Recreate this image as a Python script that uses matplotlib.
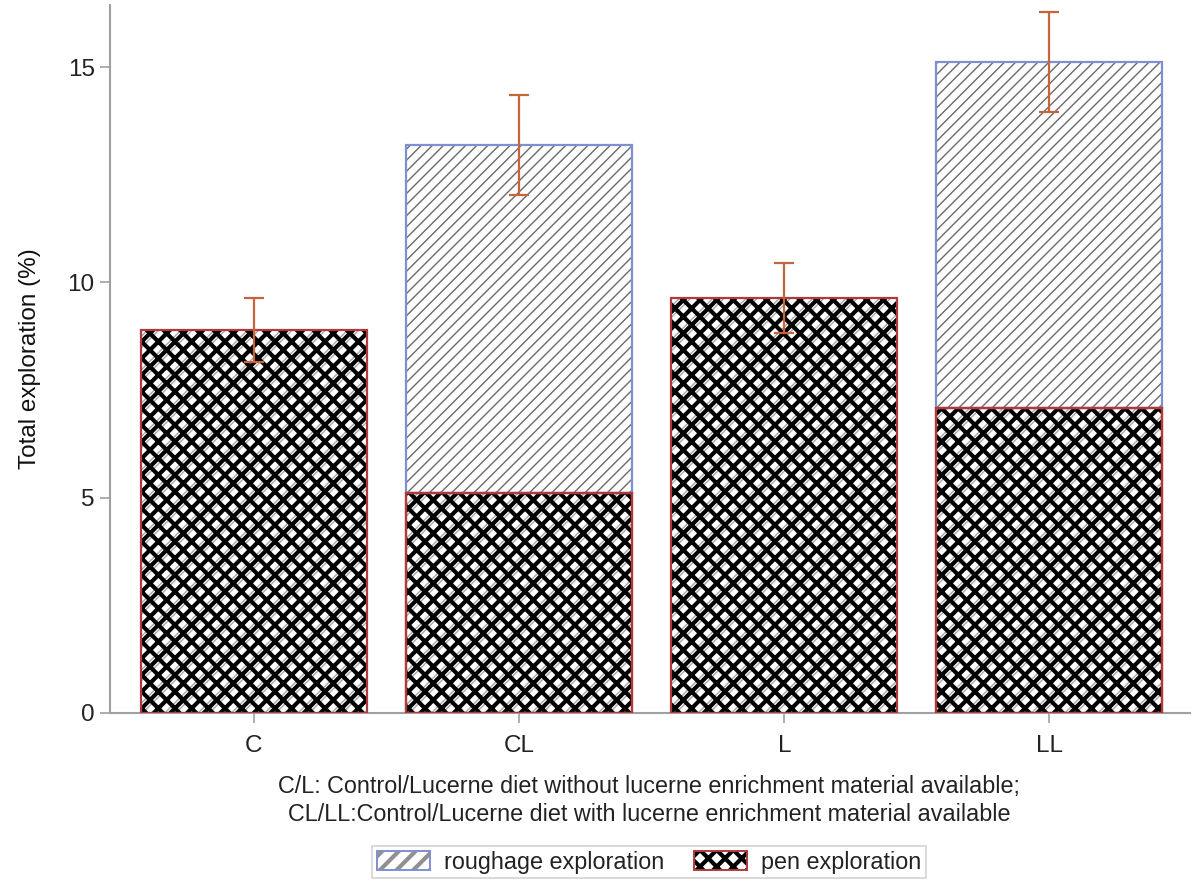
import matplotlib
matplotlib.use("Agg")
import matplotlib.pyplot as plt
from matplotlib.patches import Patch

plt.rcParams['font.family'] = ['Liberation Sans', 'DejaVu Sans']

groups = ["C", "CL", "L", "LL"]
pen = [8.89, 5.11, 9.64, 7.08]
roughage = [0.0, 8.08, 0.0, 8.04]
err = [0.75, 1.17, 0.82, 1.16]

total = [p + r for p, r in zip(pen, roughage)]

FS = 16.8
XLW = 3.0

fig = plt.figure(figsize=(11.94, 8.81), dpi=100)
ax = fig.add_axes([0.0921, 0.1907, 0.9045, 0.8036])

x = list(range(len(groups)))
w = 0.853
pen_edge = '#b03a3a'
rough_edge = '#7f8fcf'
err_col = '#c8643c'


def set_hlw(artists, lw):
    for a in artists:
        if hasattr(a, 'set_hatch_linewidth'):
            a.set_hatch_linewidth(lw)


plt.rcParams['hatch.linewidth'] = 1.0
b1 = ax.bar(x, pen, width=w, color='white', edgecolor='#a8a8a8', linewidth=0, hatch='///', zorder=2)
set_hlw(b1, 1.0)
plt.rcParams['hatch.linewidth'] = XLW
b2 = ax.bar(x, pen, width=w, color='none', edgecolor='black', linewidth=0, hatch='xx', zorder=3)
set_hlw(b2, XLW)
ax.bar(x, pen, width=w, color='none', edgecolor=pen_edge, linewidth=1.6, zorder=4)

plt.rcParams['hatch.linewidth'] = 1.0
rx = [xi for xi, r in zip(x, roughage) if r > 0]
rv = [r for r in roughage if r > 0]
rb = [p for p, r in zip(pen, roughage) if r > 0]
b3 = ax.bar(rx, rv, bottom=rb, width=w, color='white', edgecolor='#6a6a6a', linewidth=0, hatch='///', zorder=2)
set_hlw(b3, 1.0)
ax.bar(rx, rv, bottom=rb, width=w, color='none', edgecolor=rough_edge, linewidth=1.6, zorder=4)
ax.bar(rx, rb, width=w, color='none', edgecolor=pen_edge, linewidth=1.6, zorder=5)

ax.errorbar(x, total, yerr=err, fmt='none', ecolor=err_col, elinewidth=1.6, capsize=7.5, capthick=1.6, zorder=6)

ax.set_xlim(-0.543, 3.53)
ax.set_ylim(0, 16.44)
ax.set_yticks([0, 5, 10, 15])
ax.set_xticks(x)
ax.set_xticklabels(groups)
for s in ['top', 'right']:
    ax.spines[s].set_visible(False)
for s in ['left', 'bottom']:
    ax.spines[s].set_color('#a0a0a0')
    ax.spines[s].set_linewidth(1.5)
ax.tick_params(axis='both', colors='#a0a0a0', labelcolor='#222222', labelsize=17.5, length=7, width=1.2)
ax.tick_params(axis='y', pad=4)
ax.tick_params(axis='x', pad=9)
ax.set_ylabel('Total exploration (%)', fontsize=17.5, color='#111111', labelpad=19)

fig.text(0.5435, 0.0915, 'C/L: Control/Lucerne diet without lucerne enrichment material available;\nCL/LL:Control/Lucerne diet with lucerne enrichment material available',
         ha='center', va='center', fontsize=FS, color='#222222', linespacing=1.3)

plt.rcParams['hatch.linewidth'] = 1.0
h1a = Patch(facecolor='white', edgecolor='#909090', hatch='//', linewidth=0)
set_hlw([h1a], 1.0)
h1b = Patch(facecolor='none', edgecolor=rough_edge, linewidth=1.4)
plt.rcParams['hatch.linewidth'] = XLW
h2a = Patch(facecolor='white', edgecolor='black', hatch='xx', linewidth=0)
set_hlw([h2a], XLW)
h2b = Patch(facecolor='none', edgecolor=pen_edge, linewidth=1.4)
leg = fig.legend([(h1a, h1b), (h2a, h2b)], ['roughage exploration', 'pen exploration'], loc='center',
                 bbox_to_anchor=(0.5435, 0.0215),
                 ncol=2, fontsize=FS, frameon=True, fancybox=False, edgecolor='#c8c8c8',
                 handlelength=2.25, handleheight=0.85, columnspacing=1.3, borderpad=0.2, handletextpad=0.6,
                 borderaxespad=0)
leg.get_frame().set_linewidth(1.2)
for t in leg.get_texts():
    t.set_color('#222222')

fig.savefig('out.png', dpi=100)
